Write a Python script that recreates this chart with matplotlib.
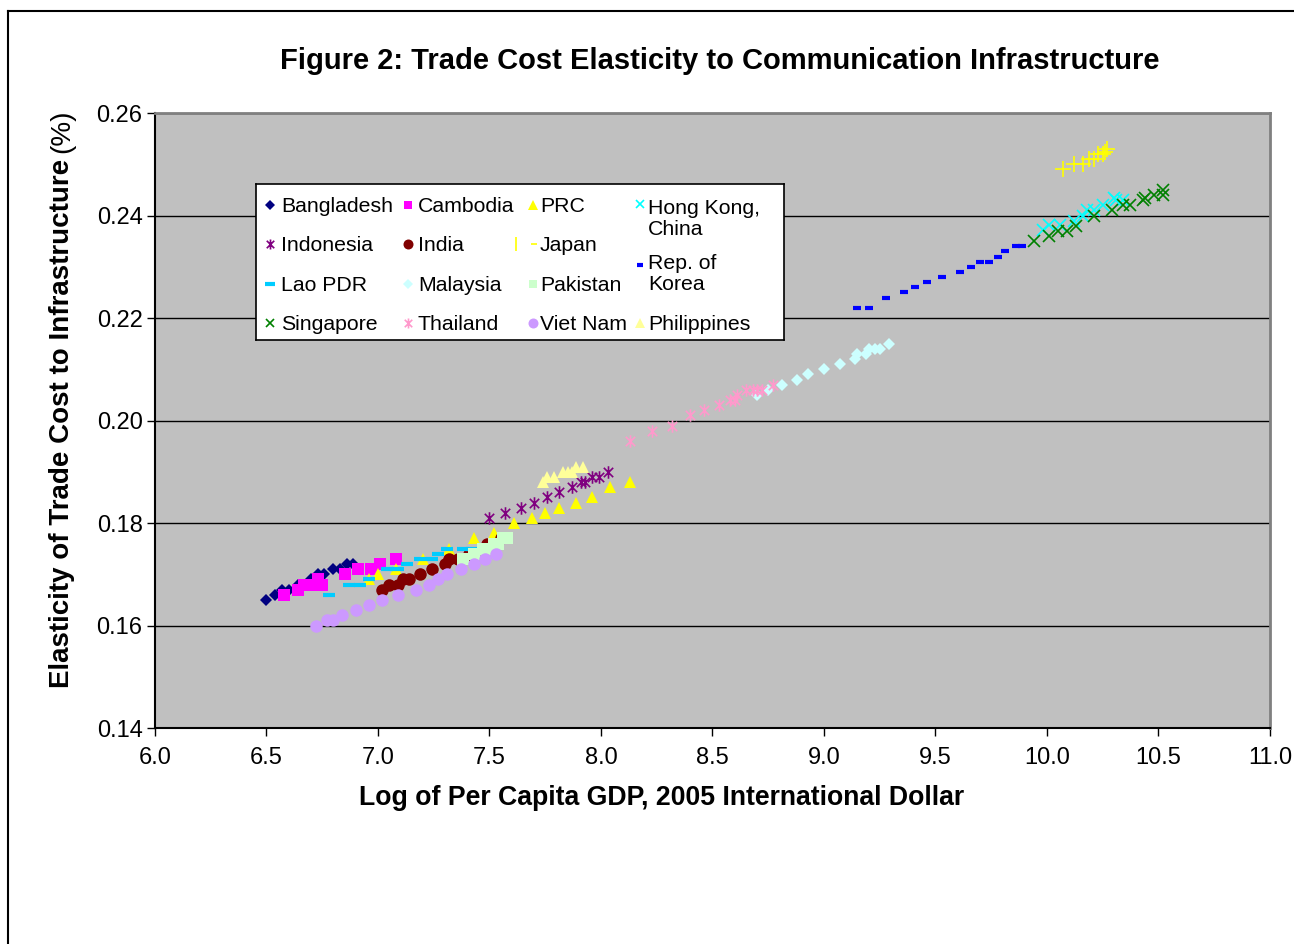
import numpy as np
import matplotlib
matplotlib.use("Agg")
import matplotlib.pyplot as plt
from matplotlib.path import Path
from matplotlib.lines import Line2D

plt.rcParams['font.family'] = ['Liberation Sans', 'DejaVu Sans']

# data: log per-capita GDP (x) vs elasticity (y)
bangladesh_x = [6.50, 6.54, 6.57, 6.60, 6.64, 6.66, 6.70, 6.73, 6.76, 6.80, 6.83, 6.86, 6.89]
bangladesh_y = [0.165, 0.166, 0.167, 0.167, 0.168, 0.168, 0.169, 0.170, 0.170, 0.171, 0.171, 0.172, 0.172]

cambodia_x = [6.58, 6.64, 6.67, 6.70, 6.73, 6.75, 6.85, 6.91, 6.97, 7.01, 7.08]
cambodia_y = [0.166, 0.167, 0.168, 0.168, 0.169, 0.168, 0.170, 0.171, 0.171, 0.172, 0.173]

prc_x = [6.96, 7.00, 7.08, 7.20, 7.32, 7.43, 7.52, 7.61, 7.69, 7.75, 7.81, 7.89, 7.96, 8.04, 8.13]
prc_y = [0.169, 0.170, 0.171, 0.173, 0.175, 0.177, 0.178, 0.180, 0.181, 0.182, 0.183, 0.184, 0.185, 0.187, 0.188]

hongkong_x = [9.98, 10.01, 10.06, 10.12, 10.16, 10.18, 10.21, 10.25, 10.30, 10.31, 10.34]
hongkong_y = [0.2372, 0.2382, 0.2382, 0.239, 0.240, 0.241, 0.241, 0.242, 0.2435, 0.243, 0.243]

indonesia_x = [7.50, 7.57, 7.64, 7.70, 7.76, 7.81, 7.87, 7.91, 7.93, 7.96, 7.99, 8.03]
indonesia_y = [0.181, 0.182, 0.183, 0.184, 0.185, 0.186, 0.187, 0.188, 0.188, 0.189, 0.189, 0.190]

india_x = [7.02, 7.05, 7.09, 7.11, 7.14, 7.19, 7.24, 7.30, 7.32, 7.36, 7.41, 7.47, 7.49, 7.55]
india_y = [0.167, 0.168, 0.168, 0.169, 0.169, 0.170, 0.171, 0.172, 0.173, 0.173, 0.174, 0.175, 0.176, 0.177]

japan_x = [10.07, 10.12, 10.16, 10.19, 10.21, 10.23, 10.25, 10.26, 10.27]
japan_y = [0.249, 0.250, 0.250, 0.251, 0.251, 0.252, 0.252, 0.2523, 0.253]

korea_x = [9.15, 9.20, 9.28, 9.36, 9.41, 9.46, 9.53, 9.61, 9.66, 9.70, 9.74, 9.78, 9.81, 9.86, 9.89]
korea_y = [0.222, 0.222, 0.224, 0.225, 0.226, 0.227, 0.228, 0.229, 0.230, 0.231, 0.231, 0.232, 0.233, 0.234, 0.234]

lao_x = [6.78, 6.87, 6.92, 6.96, 7.04, 7.09, 7.13, 7.19, 7.24, 7.27, 7.31, 7.38, 7.42]
lao_y = [0.166, 0.168, 0.168, 0.169, 0.171, 0.171, 0.172, 0.173, 0.173, 0.174, 0.175, 0.175, 0.175]

malaysia_x = [8.70, 8.75, 8.81, 8.88, 8.93, 9.00, 9.07, 9.14, 9.15, 9.19, 9.20, 9.23, 9.25, 9.29]
malaysia_y = [0.205, 0.206, 0.207, 0.208, 0.209, 0.210, 0.211, 0.212, 0.213, 0.213, 0.214, 0.214, 0.214, 0.215]

pakistan_x = [7.38, 7.43, 7.47, 7.49, 7.52, 7.54, 7.56, 7.58]
pakistan_y = [0.173, 0.174, 0.175, 0.175, 0.176, 0.176, 0.177, 0.177]

singapore_x = [9.94, 10.01, 10.05, 10.09, 10.13, 10.21, 10.29, 10.34, 10.37, 10.43, 10.44, 10.48, 10.52, 10.52]
singapore_y = [0.235, 0.236, 0.237, 0.237, 0.238, 0.240, 0.241, 0.242, 0.242, 0.243, 0.2435, 0.244, 0.245, 0.244]

thailand_x = [8.13, 8.23, 8.32, 8.40, 8.46, 8.53, 8.58, 8.60, 8.61, 8.65, 8.68, 8.70, 8.72, 8.77]
thailand_y = [0.196, 0.198, 0.199, 0.201, 0.202, 0.203, 0.204, 0.204, 0.205, 0.206, 0.206, 0.206, 0.206, 0.207]

vietnam_x = [6.72, 6.77, 6.80, 6.84, 6.90, 6.96, 7.02, 7.09, 7.17, 7.23, 7.27, 7.31, 7.37, 7.43, 7.48, 7.53]
vietnam_y = [0.160, 0.161, 0.161, 0.162, 0.163, 0.164, 0.165, 0.166, 0.167, 0.168, 0.169, 0.170, 0.171, 0.172, 0.173, 0.174]

philippines_x = [7.74, 7.76, 7.79, 7.83, 7.85, 7.87, 7.89, 7.92]
philippines_y = [0.188, 0.189, 0.189, 0.190, 0.190, 0.190, 0.191, 0.191]

# excel-like asterisk: vertical bar + X
star = Path([(0, -1), (0, 1), (-0.75, -0.75), (0.75, 0.75), (-0.75, 0.75), (0.75, -0.75)],
            [Path.MOVETO, Path.LINETO] * 3)

# name, x, y, marker, color, size, edge width
series = [
    ("Bangladesh", bangladesh_x, bangladesh_y, "D", "#000080", 6, 0),
    ("Cambodia", cambodia_x, cambodia_y, "s", "#FF00FF", 8, 0),
    ("PRC", prc_x, prc_y, "^", "#FFFF00", 9, 0),
    ("Hong Kong,\nChina", hongkong_x, hongkong_y, "x", "#00FFFF", 8, 1.2),
    ("Indonesia", indonesia_x, indonesia_y, star, "#800080", 9, 1.2),
    ("India", india_x, india_y, "o", "#800000", 9, 0),
    ("Japan", japan_x, japan_y, "+", "#FFFF00", 11, 1.2),
    ("Rep. of\nKorea", korea_x, korea_y, "_", "#0000FF", 6, 3),
    ("Lao PDR", lao_x, lao_y, "_", "#00CCFF", 9, 3),
    ("Malaysia", malaysia_x, malaysia_y, "D", "#CCFFFF", 6, 0),
    ("Pakistan", pakistan_x, pakistan_y, "s", "#CCFFCC", 8, 0),
    ("Singapore", singapore_x, singapore_y, "x", "#008000", 8, 1.2),
    ("Thailand", thailand_x, thailand_y, star, "#FF99CC", 9, 1.2),
    ("Viet Nam", vietnam_x, vietnam_y, "o", "#CC99FF", 9, 0),
    ("Philippines", philippines_x, philippines_y, "^", "#FFFF99", 9, 0),
]

fig = plt.figure(figsize=(12.94, 9.44), dpi=100)
fig.patch.set_facecolor("white")

# outer chart frame (only top and left edges are in the picture)
fig.add_artist(Line2D([8 / 1294, 1], [1 - 11 / 944, 1 - 11 / 944], color="black", lw=1.5))
fig.add_artist(Line2D([8 / 1294, 8 / 1294], [0, 1 - 11 / 944], color="black", lw=1.5))

ax = fig.add_axes([155 / 1294, 1 - 728 / 944, 1115 / 1294, 615 / 944])
ax.set_facecolor("#C0C0C0")

for name, xs, ys, mk, col, ms, mew in series:
    ax.plot(xs, ys, linestyle="none", marker=mk, color=col, markersize=ms,
            markeredgewidth=mew)

ax.set_xlim(6.0, 11.0)
ax.set_ylim(0.14, 0.26)
xt = np.arange(6.0, 11.01, 0.5)
yt = np.arange(0.14, 0.2601, 0.02)
ax.set_xticks(xt)
ax.set_xticklabels([f"{v:.1f}" for v in xt])
ax.set_yticks(yt)
ax.set_yticklabels([f"{v:.2f}" for v in yt])
ax.tick_params(labelsize=17, direction="out", length=6, width=1, color="black", pad=3)
ax.tick_params(axis="x", pad=8)
ax.yaxis.grid(True, color="black", linewidth=1)
ax.set_axisbelow(True)
for s in ["top", "right"]:
    ax.spines[s].set_color("#808080")
    ax.spines[s].set_linewidth(2)
for s in ["left", "bottom"]:
    ax.spines[s].set_color("black")
    ax.spines[s].set_linewidth(1.5)

fig.text(720 / 1294, 1 - 61 / 944, "Figure 2: Trade Cost Elasticity to Communication Infrastructure",
         ha="center", va="center", fontsize=21, fontweight="bold")
fig.text(662 / 1294, 1 - 798 / 944, "Log of Per Capita GDP, 2005 International Dollar",
         ha="center", va="center", fontsize=19.2, fontweight="bold")
yl = fig.text(62 / 1294, 1 - 688 / 944, "Elasticity of Trade Cost to Infrastructure",
              ha="center", va="bottom", rotation=90, fontsize=20, fontweight="bold")
fig.canvas.draw()
bb = yl.get_window_extent().transformed(fig.transFigure.inverted())
fig.text(62 / 1294, bb.y1 + 6 / 944, "(%)",
         ha="center", va="bottom", rotation=90, fontsize=20)

# legend drawn by hand so the two-line entries line up like the original
lg = fig.add_axes([256 / 1294, 1 - 340 / 944, 528 / 1294, 156 / 944])
lg.set_xlim(0, 528)
lg.set_ylim(156, 0)
lg.set_xticks([])
lg.set_yticks([])
lg.set_facecolor("white")
for s in lg.spines.values():
    s.set_color("black")
    s.set_linewidth(1.2)

col_mark = [14, 152, 277, 384]
col_text = [25, 162, 284, 392]
row_y = [23, 62, 102, 141]
slots = [(0, 0), (1, 0), (2, 0), (3, 0),
         (0, 1), (1, 1), (2, 1), (3, 1.5),
         (0, 2), (1, 2), (2, 2),
         (0, 3), (1, 3), (2, 3), (3, 3)]
for (name, xs, ys, mk, col, ms, mew), (c, r) in zip(series, slots):
    if c == 3 and r < 3:
        ty = row_y[0] if r == 0 else row_y[1] + 16
        my = ty - 3 if r == 0 else ty + 3
        txt_y = ty + 12
    else:
        my = row_y[int(r)] - 2
        txt_y = row_y[int(r)]
    lms = ms * 0.8
    if name == "Japan":
        # the legend key shows only the ends of the plus sign
        lg.plot(col_mark[c] - 17, my, linestyle="none", marker="|", color=col, markersize=10,
                markeredgewidth=1.2)
        lg.plot(col_mark[c] + 1, my, linestyle="none", marker="_", color=col, markersize=5,
                markeredgewidth=1.2)
    else:
        lg.plot(col_mark[c], my, linestyle="none", marker=mk, color=col, markersize=lms,
                markeredgewidth=mew)
    lg.text(col_text[c], txt_y, name, ha="left", va="center", fontsize=15.3, linespacing=1.15)

fig.savefig("out.png", dpi=100)
